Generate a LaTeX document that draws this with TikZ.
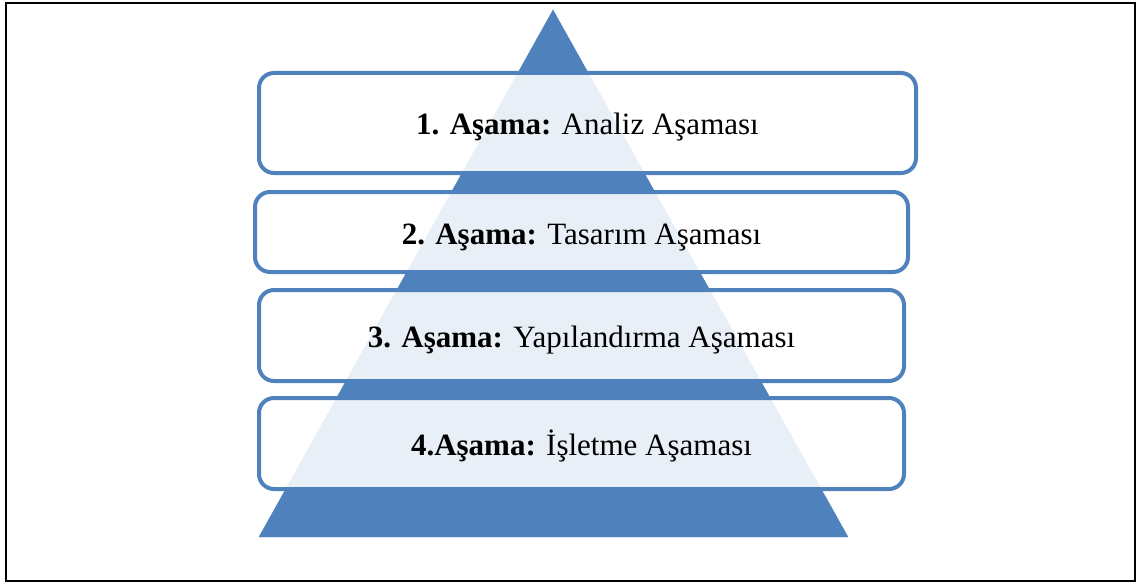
\documentclass[tikz,border=0pt]{standalone}
\usepackage{fontspec}
\setmainfont{Liberation Serif}
\definecolor{stageblue}{RGB}{79,129,189}

\begin{document}
\begin{tikzpicture}[x=1pt, y=-1pt, font=\fontsize{31}{37}\selectfont]
%% one unit is one pixel of the 1137x583 frame, y grows downwards
%% the boxes are nearly opaque so the pyramid only shows faintly through them
\tikzstyle{frame}=[draw=black,line width=2pt]
\tikzstyle{pyramid}=[fill=stageblue,draw=stageblue]
\tikzstyle{stage}=[draw=stageblue,line width=4pt,rounded corners=15pt,fill=white,fill opacity=0.88,text opacity=1,inner sep=0pt,text height=24pt,text depth=0pt]
\useasboundingbox (0,0) rectangle (1137,583);
%% outer frame
\draw[frame] (6,3.5) rectangle (1134.5,580.5);
%% pyramid behind the stages
\coordinate (Top) at (553,10);
\coordinate (BaseL) at (259,537);
\coordinate (BaseR) at (848,537);
\path[pyramid] (Top) -- (BaseR) -- (BaseL) -- cycle;
%% TikZ-figure elements %%
\node[stage, minimum width=657pt, minimum height=100pt] at (587.5,123) (Stage_1) {\textbf{1. Aşama:} Analiz Aşaması};
\node[stage, minimum width=653pt, minimum height=80pt] at (581.5,232) (Stage_2) {\textbf{2. Aşama:} Tasarım Aşaması};
\node[stage, minimum width=645pt, minimum height=91pt] at (581.5,335.5) (Stage_3) {\textbf{3. Aşama:} Yapılandırma Aşaması};
\node[stage, minimum width=645pt, minimum height=91pt] at (581.5,443.5) (Stage_4) {\textbf{4.Aşama:} İşletme Aşaması};
\end{tikzpicture}
\end{document}
